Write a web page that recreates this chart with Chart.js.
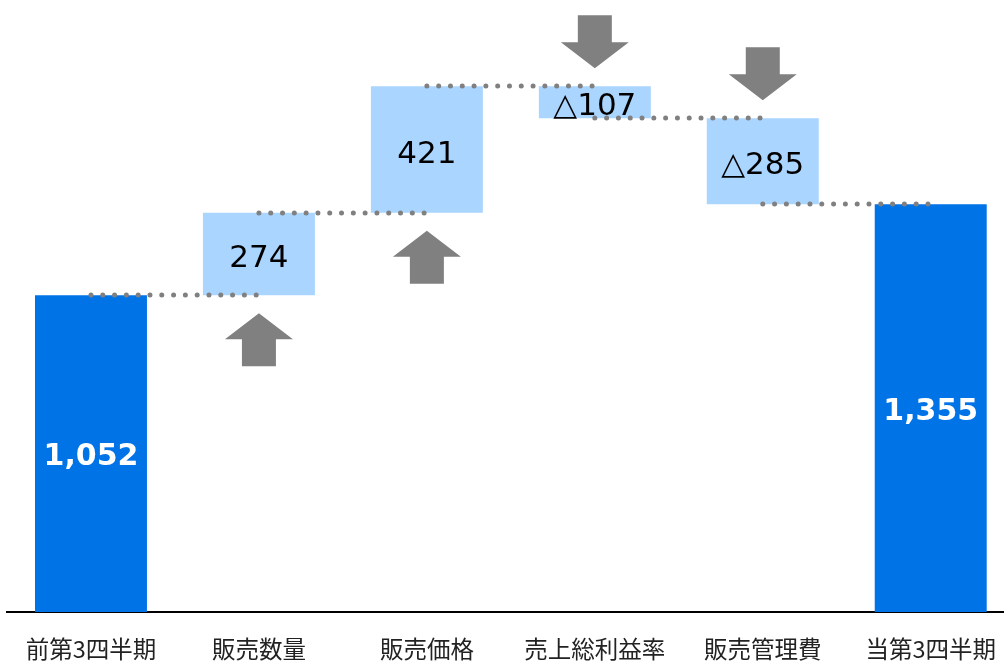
<!DOCTYPE html>
<html lang="ja">
<head>
<meta charset="utf-8">
<script src="https://cdn.jsdelivr.net/npm/chart.js@4"></script>
<style>
  html, body { margin: 0; padding: 0; background: #fff; overflow: hidden; }
  #wrap { width: 1019px; height: 662px; position: relative; }
</style>
</head>
<body>
<div id="wrap"><canvas id="waterfall"></canvas></div>
<script>
// 項目と増減値
const categories = ['前第3四半期', '販売数量', '販売価格', '売上総利益率', '販売管理費', '当第3四半期'];
const values = [1052, 274, 421, -107, -285, 1355];
const isTotal = [true, false, false, false, false, true];
const yTicks = [0, 2000];

const totalColor = '#0073E6';
const deltaColor = '#AAD5FF';
const grey = '#808080';

// 浮動バーの範囲を作る
const ranges = [];
const levels = [];
let running = 0;
values.forEach(function(v, i) {
    if (isTotal[i]) {
        ranges.push([0, v]);
        running = v;
    } else {
        ranges.push([running, running + v]);
        running += v;
    }
    levels.push(running);
});

function labelText(i) {
    const v = values[i];
    if (isTotal[i]) return v.toLocaleString('en-US');
    return v < 0 ? '△' + Math.abs(v) : String(v);
}

// 点線・矢印・値ラベル
const decorations = {
    id: 'decorations',
    afterDatasetsDraw(chart) {
        const ctx = chart.ctx;
        const meta = chart.getDatasetMeta(0);
        const y = chart.scales.y;

        // 点線のつなぎ
        ctx.save();
        ctx.strokeStyle = grey;
        ctx.lineWidth = 5;
        ctx.lineCap = 'round';
        ctx.setLineDash([0, 11.8]);
        for (let i = 0; i < meta.data.length - 1; i++) {
            const py = Math.round(y.getPixelForValue(levels[i]));
            ctx.beginPath();
            ctx.moveTo(meta.data[i].x, py);
            ctx.lineTo(meta.data[i + 1].x, py);
            ctx.stroke();
        }
        ctx.restore();

        // 矢印
        ctx.save();
        ctx.fillStyle = grey;
        meta.data.forEach(function(bar, i) {
            if (isTotal[i]) return;
            const cx = bar.x;
            const up = values[i] > 0;
            const gap = 18, headH = 26, totalH = 53, headW = 34, shaftW = 17;
            let tip, dir;
            if (up) {
                tip = Math.max(bar.y, bar.base) + gap;
                dir = 1;
            } else {
                tip = Math.min(bar.y, bar.base) - gap;
                dir = -1;
            }
            ctx.beginPath();
            ctx.moveTo(cx, tip);
            ctx.lineTo(cx + headW, tip + dir * headH);
            ctx.lineTo(cx + shaftW, tip + dir * headH);
            ctx.lineTo(cx + shaftW, tip + dir * totalH);
            ctx.lineTo(cx - shaftW, tip + dir * totalH);
            ctx.lineTo(cx - shaftW, tip + dir * headH);
            ctx.lineTo(cx - headW, tip + dir * headH);
            ctx.closePath();
            ctx.fill();
        });
        ctx.restore();

        // 値ラベル
        ctx.save();
        ctx.textAlign = 'center';
        ctx.textBaseline = 'middle';
        meta.data.forEach(function(bar, i) {
            const cy = (bar.y + bar.base) / 2;
            if (isTotal[i]) {
                ctx.fillStyle = '#FFFFFF';
                ctx.font = 'bold 30px Verdana, "DejaVu Sans", sans-serif';
                ctx.fillText(labelText(i), bar.x, cy + 4);
            } else {
                ctx.fillStyle = '#000000';
                ctx.font = '31px Verdana, "DejaVu Sans", sans-serif';
                ctx.fillText(labelText(i), bar.x, cy + 5);
            }
        });
        ctx.restore();
    }
};

const ctx = document.getElementById('waterfall').getContext('2d');
const chart = new Chart(ctx, {
    type: 'bar',
    data: {
        labels: categories,
        datasets: [{
            data: ranges,
            backgroundColor: isTotal.map(t => t ? totalColor : deltaColor),
            borderWidth: 0,
            borderSkipped: false,
            categoryPercentage: 1,
            barPercentage: 2 / 3
        }]
    },
    options: {
        responsive: true,
        maintainAspectRatio: false,
        animation: false,
        layout: { padding: { left: 7, right: 0, top: 10, bottom: 0 } },
        plugins: {
            legend: { display: false },
            tooltip: { enabled: false }
        },
        scales: {
            x: {
                grid: { display: false, drawTicks: false },
                border: { display: true, color: '#000000', width: 2 },
                ticks: {
                    color: '#222222',
                    padding: 23,
                    maxRotation: 0,
                    autoSkip: false,
                    font: { family: '"Noto Sans CJK JP", sans-serif', size: 23.5 }
                },
                afterFit: function(scale) { scale.height = 50; }
            },
            y: {
                display: false,
                min: yTicks[0],
                max: yTicks[yTicks.length - 1]
            }
        }
    },
    plugins: [decorations]
});
</script>
</body>
</html>
